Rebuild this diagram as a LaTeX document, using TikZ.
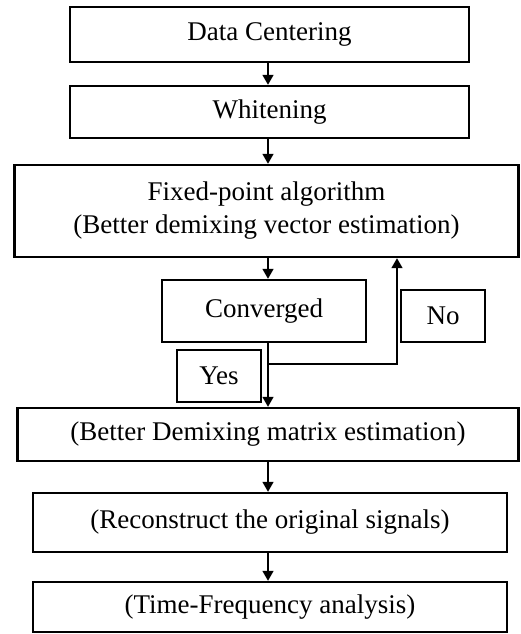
\documentclass[tikz,border=0pt]{standalone}
\usepackage{fontspec}
\setmainfont{Liberation Serif}
\usetikzlibrary{arrows.meta}
\begin{document}
\begin{tikzpicture}[x=1pt,y=-1pt,
  box/.style={draw=black,line width=2.4pt,inner sep=0pt,align=center,font=\fontsize{27}{33}\selectfont},
  arr/.style={line width=1.6pt,-{Triangle[length=10pt,width=11pt]}},
  ln/.style={line width=1.6pt}]
\useasboundingbox (0,0) rectangle (520,634);
\coordinate (spine) at (268,0);
\node[box,minimum width=399pt,minimum height=55pt] (b1) at (269.5,34.5) {Data Centering};
\node[box,minimum width=399pt,minimum height=52pt] (b2) at (269.5,112) {Whitening};
\node[box,minimum width=504pt,minimum height=92pt] (b3) at (266.5,211) {Fixed-point algorithm\\(Better demixing vector estimation)};
\node[box,minimum width=204pt,minimum height=62pt] (conv) at (264,311) {Converged};
\node[box,minimum width=84pt,minimum height=52pt] (no) at (443,316) {No};
\node[box,minimum width=84pt,minimum height=52pt] (yes) at (219,376) {Yes};
\node[box,minimum width=501pt,minimum height=53pt] (b4) at (268,434.5) {(Better Demixing matrix estimation)};
\node[box,minimum width=474pt,minimum height=59pt] (b5) at (270,522.5) {(Reconstruct the original signals)};
\node[box,minimum width=474pt,minimum height=50pt] (b6) at (270,607) {(Time-Frequency analysis)};
\coordinate (split) at (268,364);
\coordinate (back) at (397,364);
\draw[arr] (b1.south -| spine) -- (b2.north -| spine);
\draw[arr] (b2.south -| spine) -- (b3.north -| spine);
\draw[arr] (b3.south -| spine) -- (conv.north -| spine);
\draw[arr] (conv.south -| spine) -- (b4.north -| spine);
\draw[arr] (split) -- (back) -- (b3.south -| back);
\draw[arr] (b4.south -| spine) -- (b5.north -| spine);
\draw[arr] (b5.south -| spine) -- (b6.north -| spine);
\end{tikzpicture}
\end{document}
